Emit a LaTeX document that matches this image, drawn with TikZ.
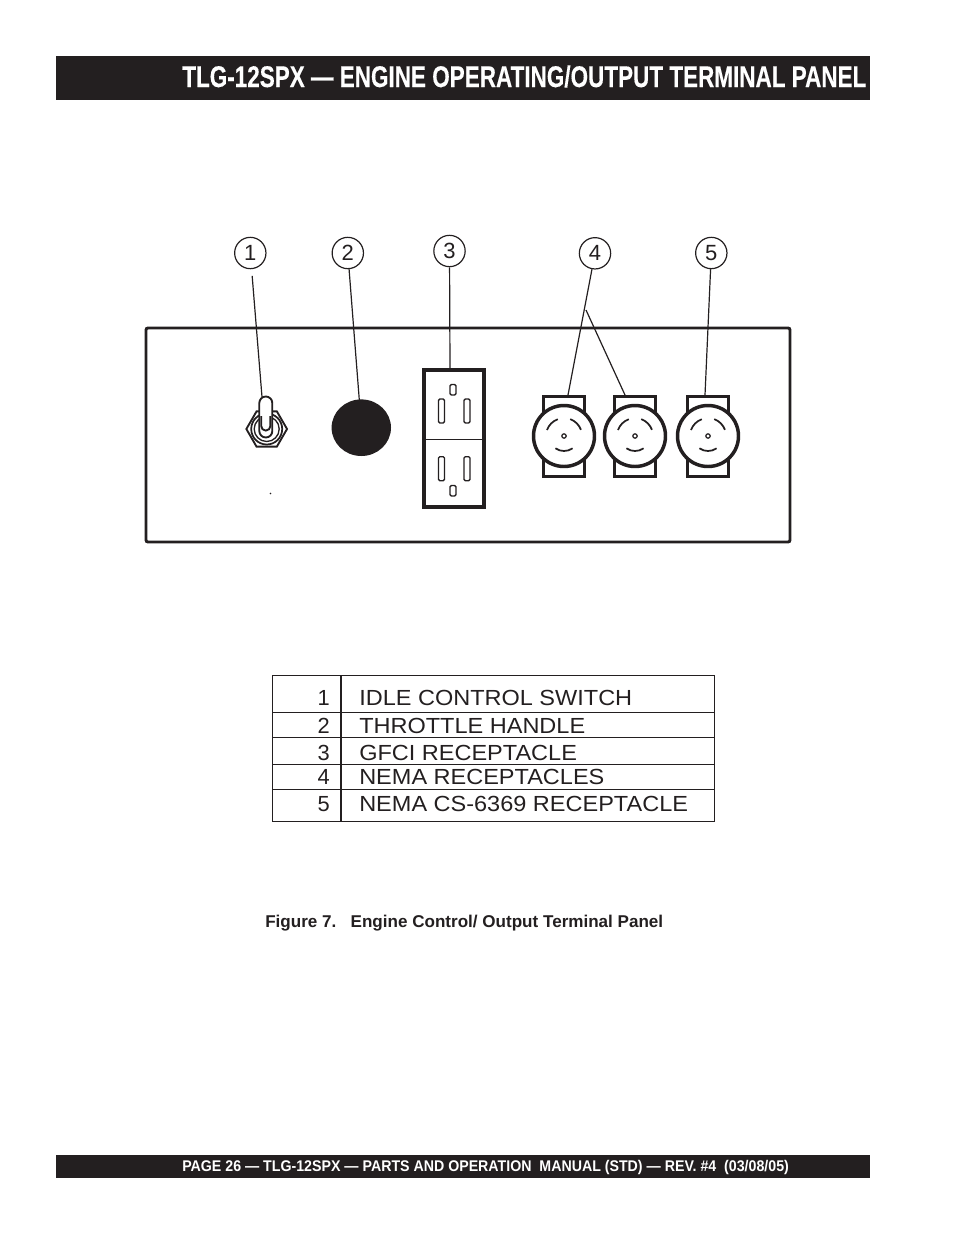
\documentclass[tikz,border=0pt]{standalone}
\usepackage{fontspec}
\setmainfont{Liberation Sans}
\newfontfamily\headfont{Liberation Sans}[BoldFeatures={FakeBold=0.3}]
\usetikzlibrary{shapes.geometric}
\definecolor{ink}{HTML}{231F20}
\tikzset{
    callout/.style={draw=ink,circle,line width=0.9pt,minimum size=23.5pt,inner sep=0pt,font=\fontsize{16.5}{16}\selectfont,text=ink},
    lead/.style={draw=ink,line width=0.9pt},
    slot/.style={draw=ink,line width=1pt,rounded corners=1pt},
    rowtext/.style={anchor=base west,inner sep=0pt,text=ink,font=\fontsize{16.4}{17}\selectfont},
    rownum/.style={anchor=base east,inner sep=0pt,text=ink,font=\fontsize{16.4}{17}\selectfont},
}
\begin{document}
\begin{tikzpicture}[x=0.75pt,y=-0.75pt]
    \useasboundingbox (0,0) rectangle (954,1235);
    % header and footer bars
    \fill[ink] (56,56) rectangle (870,100);
    \fill[ink] (56,1155) rectangle (870,1178);
    \node[anchor=base west,inner sep=0pt,text=white] (title) at (182,87)
    {\resizebox{513pt}{\height}{\fontsize{22.4}{22}\headfont\bfseries\selectfont TLG-12SPX — ENGINE OPERATING/OUTPUT TERMINAL PANEL}};
    \node[anchor=base west,inner sep=0pt,text=white] (foot) at (182,1171)
    {\resizebox{455pt}{\height}{\fontsize{11.6}{12}\bfseries\selectfont PAGE 26 — TLG-12SPX — PARTS AND OPERATION\ \ MANUAL (STD) — REV. \#4\ \ (03/08/05)}};
    % panel
    \draw[ink,line width=2.2pt,rounded corners=1.5pt] (146,328) rectangle (790,542);
    % toggle switch
    \node[draw=ink,regular polygon,regular polygon sides=6,line width=1.4pt,minimum size=30.5pt,inner sep=0pt] (nut) at (266.7,429) {};
    \draw[ink,line width=1.3pt] (nut.center) circle (15.5);
    \draw[ink,line width=1pt] (nut.center) circle (12.5);
    \draw[ink,line width=1.4pt,fill=white] (259.3,403) arc (180:360:6.5) -- (272.3,431)
    arc (0:180:6.5) -- cycle;
    \draw[ink,line width=1.4pt] (261.2,416) -- (261.2,426) arc (180:0:4.6) -- (270.4,416);
    \coordinate (handle) at (262,397);
    \fill[ink] (270.5,493.5) circle (0.8);
    % throttle knob
    \fill[ink] (361.3,427.7) ellipse (29.7 and 28.3);
    \coordinate (knob) at (359.3,400);
    % gfci outlet
    \draw[ink,line width=3pt] (423.7,370) rectangle (483.7,507);
    \draw[ink,line width=1pt] (423.7,439.3) -- (483.7,439.3);
    \foreach \y in {399,456.7} {
        \draw[slot] (438.5,\y) rectangle ++(6,24);
        \draw[slot] (464,\y) rectangle ++(6,24);
    }
    \draw[slot] (450,384.5) rectangle (456,395);
    \draw[slot] (450,485.5) rectangle (456,496);
    \coordinate (outlet) at (450,368);
    % receptacles
    \foreach \cx in {564,635,708} {
        \draw[ink,line width=2.6pt] (\cx-20.5,396.5) rectangle (\cx+20.5,476.5);
        \draw[ink,line width=2.6pt,fill=white] (\cx,436) circle (30.5);
        \draw[ink,line width=0.9pt,fill=white] (\cx,436) circle (2.2);
        \draw[ink,line width=1.3pt] (\cx-17,430) arc (200:250:18);
        \draw[ink,line width=1.3pt] (\cx+6.2,419.1) arc (290:340:18);
        \draw[ink,line width=1.3pt] (\cx-8.6,448.3) arc (125:55:15);
    }
    \coordinate (pinA) at (568,395);
    \coordinate (pinB) at (625,395);
    \coordinate (pinC) at (705,395);
    \coordinate (fork) at (586,310);
    % callouts
    \node[callout] (c1) at (250.3,253) {1};
    \node[callout] (c2) at (347.8,253) {2};
    \node[callout] (c3) at (449.5,251) {3};
    \node[callout] (c4) at (595,253.3) {4};
    \node[callout] (c5) at (711.3,253) {5};
    \draw[lead,shorten <=5pt] (c1) -- (handle);
    \draw[lead] (c2) -- (knob);
    \draw[lead] (c3) -- (outlet);
    \draw[lead] (c4) -- (pinA);
    \draw[lead] (fork) -- (pinB);
    \draw[lead] (c5) -- (pinC);
    % parts table
    \draw[ink,line width=0.75pt] (272,675) rectangle (714,821);
    \draw[ink,line width=0.9pt] (341,675) -- (341,821);
    \foreach \y in {712.7,737.3,764,789.7}
    \draw[ink,line width=0.75pt] (272,\y) -- (714,\y);
    \foreach \n/\y/\t in {1/705.7/IDLE CONTROL SWITCH,2/733.3/THROTTLE HANDLE,3/760/GFCI RECEPTACLE,4/784/NEMA RECEPTACLES,5/811.7/NEMA CS-6369 RECEPTACLE} {
        \node[rownum] (num\n) at (330,\y) {\n};
        \node[rowtext] (part\n) at (359,\y) {\scalebox{1.075}[1]{\t}};
    }
    \node[anchor=base west,inner sep=0pt,text=ink,font=\fontsize{12.8}{13}\bfseries\selectfont] (caption) at (265,927)
    {Figure 7.\ \ \ Engine Control/ Output Terminal Panel};
\end{tikzpicture}
\end{document}
